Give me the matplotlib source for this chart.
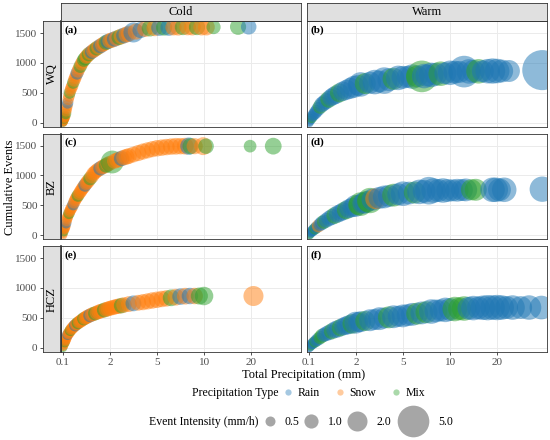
import numpy as np
import matplotlib
matplotlib.use('Agg')
import matplotlib.pyplot as plt
from matplotlib.lines import Line2D

plt.rcParams['font.family'] = ['Liberation Serif', 'DejaVu Serif']

# precipitation (mm), cumulative events, intensity (mm/h), type (R rain, S snow, M mix)
wq_cold_x = [0.100, 0.1015, 0.103, 0.105, 0.106, 0.108, 0.109, 0.113, 0.116, 0.120,
             0.123, 0.127, 0.131, 0.135, 0.141, 0.148, 0.154, 0.161, 0.171, 0.182,
             0.193, 0.205, 0.218, 0.231, 0.246, 0.261, 0.281, 0.303, 0.326, 0.352,
             0.379, 0.409, 0.441, 0.475, 0.519, 0.568, 0.632, 0.701, 0.780, 0.864,
             0.975, 1.10, 1.24, 1.40, 1.58, 1.77, 2.00, 2.09, 2.19, 2.29,
             2.40, 2.51, 2.63, 2.76, 2.89, 3.16, 3.31, 3.63, 3.98, 4.36,
             4.78, 5.18, 5.55, 5.95, 6.37, 6.83, 7.32, 7.85, 8.41, 9.01,
             9.66, 10.35, 11.5, 16.5, 19.3]
wq_cold_y = [0, 10, 20, 35, 50, 65, 75, 90, 110, 150,
             195, 240, 285, 330, 390, 450, 500, 540, 580, 620,
             670, 710, 750, 790, 830, 865, 910, 945, 985, 1020,
             1050, 1075, 1100, 1120, 1145, 1165, 1185, 1205, 1225, 1245,
             1265, 1285, 1305, 1325, 1345, 1360, 1372, 1385, 1400, 1415,
             1430, 1445, 1460, 1475, 1490, 1510, 1525, 1550, 1570, 1580,
             1585, 1590, 1592, 1594, 1595, 1598, 1600, 1600, 1600, 1600,
             1600, 1600, 1600, 1605, 1605]
wq_cold_i = [0.4, 0.4, 0.45, 0.45, 0.5, 0.5, 0.5, 0.55, 0.55, 0.6,
             0.6, 0.6, 0.65, 0.65, 0.65, 0.7, 0.7, 0.7, 0.75, 0.75,
             0.75, 0.8, 0.8, 0.8, 0.85, 0.85, 0.85, 0.9, 0.9, 0.9,
             0.95, 0.95, 0.95, 1.0, 1.0, 1.0, 1.0, 1.05, 1.05, 1.05,
             1.1, 1.1, 1.1, 1.1, 1.15, 1.15, 1.15, 1.2, 1.2, 1.2,
             1.2, 1.25, 1.25, 1.25, 1.3, 2.0, 1.3, 1.3, 1.3, 1.35,
             1.35, 1.35, 1.3, 1.4, 1.3, 1.4, 1.3, 1.35, 1.4, 1.3,
             1.4, 1.4, 1.0, 1.3, 1.2]
wq_cold_t = ("SMSSSMSSSM" "SSSRSSMSSS" "MSSSRSSMSS" "MMSSMSRSSM"
             "SRSSMRSSRS" "MSRSSRSRSM" "SRMRSSMSSM" "SSMMR")

wq_warm_x = [0.100, 0.106, 0.113, 0.120, 0.127, 0.135, 0.148, 0.161, 0.182, 0.205,
             0.231, 0.261, 0.303, 0.352, 0.409, 0.475, 0.568, 0.701, 0.864, 1.10,
             1.40, 1.77, 2.09, 2.19, 2.40, 2.63, 2.89, 3.16, 3.47, 3.80,
             4.16, 4.56, 5.00, 5.36, 5.74, 6.16, 6.60, 6.83, 7.07, 7.58,
             8.12, 8.71, 9.33, 10.0, 10.72, 11.5, 12.3, 13.2, 14.1, 15.2,
             16.2, 17.4, 18.7, 20.0, 21.4, 23.8, 38.9]
wq_warm_y = [0, 30, 60, 85, 110, 135, 160, 190, 230, 270,
             305, 330, 360, 390, 420, 445, 470, 500, 525, 550,
             575, 600, 625, 640, 655, 670, 680, 690, 705, 720,
             735, 750, 760, 768, 772, 775, 775, 780, 790, 800,
             812, 820, 828, 835, 845, 850, 855, 858, 860, 860,
             860, 862, 865, 865, 865, 865, 880]
wq_warm_i = [0.45, 0.5, 0.55, 0.6, 0.65, 0.7, 0.8, 0.85, 0.95, 1.05,
             1.2, 1.2, 1.3, 1.4, 1.5, 1.6, 1.7, 1.8, 1.9, 2.0,
             2.2, 2.4, 2.2, 3.0, 2.2, 2.4, 3.0, 2.4, 3.5, 2.6,
             2.4, 3.0, 2.6, 2.4, 3.0, 2.4, 5.0, 3.0, 2.4, 3.0,
             2.6, 3.0, 2.4, 3.0, 2.6, 2.4, 5.0, 3.0, 2.6, 3.0,
             2.4, 3.0, 3.2, 3.0, 2.6, 2.4, 8.0]
wq_warm_t = ("RRRMRRRRRM" "RRRMRRRMRR" "RRRRMRRRRR" "MRRRRMMRRR"
             "RMRRRRRRRM" "RRRRRRR")

bz_cold_x = [0.100, 0.103, 0.106, 0.109, 0.113, 0.116, 0.120, 0.123, 0.127, 0.131,
             0.135, 0.141, 0.148, 0.154, 0.161, 0.171, 0.182, 0.193, 0.205, 0.218,
             0.231, 0.246, 0.261, 0.281, 0.303, 0.326, 0.352, 0.379, 0.409, 0.441,
             0.475, 0.519, 0.568, 0.632, 0.701, 0.780, 0.864, 0.975, 1.10, 1.24,
             1.40, 1.58, 1.77, 2.00, 2.09, 2.19, 2.29, 2.40, 2.51, 2.63,
             2.76, 2.89, 3.16, 3.47, 3.80, 4.16, 4.56, 5.00, 5.36, 5.74,
             6.16, 6.60, 7.07, 7.58, 8.0, 8.2, 8.71, 9.86, 10.3, 19.7,
             27.7]
bz_cold_y = [0, 30, 60, 90, 110, 130, 160, 200, 240, 280,
             310, 340, 365, 395, 420, 450, 480, 515, 550, 585,
             615, 640, 665, 695, 725, 755, 785, 810, 840, 865,
             890, 920, 950, 985, 1030, 1055, 1080, 1100, 1120, 1140,
             1155, 1170, 1190, 1205, 1225, 1240, 1255, 1270, 1285, 1300,
             1312, 1325, 1350, 1375, 1400, 1420, 1440, 1455, 1465, 1475,
             1483, 1488, 1490, 1490, 1490, 1490, 1490, 1490, 1490, 1490,
             1490]
bz_cold_i = [0.4, 0.4, 0.45, 0.45, 0.5, 0.5, 0.5, 0.55, 0.55, 0.6,
             0.6, 0.6, 0.65, 0.65, 0.65, 0.7, 0.7, 0.7, 0.75, 0.75,
             0.75, 0.8, 0.8, 0.8, 0.85, 0.85, 0.85, 0.9, 0.9, 0.9,
             0.95, 0.95, 0.95, 1.0, 1.0, 1.0, 1.0, 1.05, 1.05, 1.05,
             1.1, 1.1, 1.1, 1.1, 2.6, 1.15, 1.15, 1.2, 1.2, 1.2,
             1.25, 1.25, 1.25, 1.3, 1.3, 1.3, 1.3, 1.35, 1.35, 1.35,
             1.35, 1.4, 1.35, 1.4, 1.5, 1.3, 1.3, 1.6, 1.2, 0.8,
             1.4]
bz_cold_t = ("SSMSSSSRSS" "SSMSSSSRSS" "SSMSSSSSRS" "SSMSSSSSRS"
             "SMSSMSSSRS" "SSSSSSSSSS" "SSSSRMSSMMM")

bz_warm_x = [0.100, 0.106, 0.113, 0.120, 0.127, 0.135, 0.148, 0.161, 0.182, 0.205,
             0.231, 0.261, 0.303, 0.363, 0.434, 0.519, 0.622, 0.744, 0.891, 1.07,
             1.28, 1.58, 1.94, 2.09, 2.19, 2.29, 2.40, 2.51, 2.63, 2.76,
             2.94, 3.16, 3.47, 3.80, 4.16, 4.56, 5.00, 5.47, 5.95, 6.37,
             6.83, 7.32, 7.85, 8.41, 9.01, 9.66, 10.35, 11.1, 11.9, 12.6,
             13.7, 14.6, 18.7, 19.6, 20.7, 22.2, 38.9]
bz_warm_y = [0, 20, 40, 60, 75, 90, 110, 130, 155, 180,
             205, 225, 250, 280, 305, 330, 355, 375, 400, 420,
             445, 465, 490, 505, 520, 535, 550, 565, 580, 595,
             610, 625, 640, 657, 670, 685, 695, 705, 715, 725,
             735, 745, 748, 748, 748, 748, 750, 752, 755, 758,
             760, 760, 760, 760, 760, 760, 770]
bz_warm_i = [0.45, 0.5, 0.5, 0.55, 0.6, 0.65, 0.7, 0.75, 0.85, 0.9,
             1.0, 1.0, 1.1, 1.2, 1.3, 1.4, 1.5, 1.5, 1.6, 1.7,
             1.8, 1.9, 2.4, 2.0, 2.8, 2.2, 2.4, 2.2, 3.2, 2.4,
             2.2, 2.4, 2.6, 2.4, 2.6, 2.4, 3.0, 2.6, 2.4, 3.0,
             2.6, 3.8, 3.0, 2.6, 3.0, 2.6, 2.4, 2.6, 2.4, 2.6,
             2.2, 2.4, 3.0, 3.0, 2.6, 3.0, 3.2]
bz_warm_t = ("RMRRRRMRSR" "RMRRRMRRRM" "RRRMMRRMMR" "SRRRMRRRMR"
             "RRRRRRRRRR" "MMRRRRR")

hcz_cold_x = [0.100, 0.103, 0.106, 0.109, 0.113, 0.116, 0.120, 0.123, 0.127, 0.131,
              0.135, 0.141, 0.148, 0.154, 0.161, 0.171, 0.182, 0.193, 0.205, 0.218,
              0.231, 0.246, 0.261, 0.281, 0.303, 0.326, 0.352, 0.379, 0.409, 0.441,
              0.475, 0.519, 0.568, 0.632, 0.701, 0.780, 0.864, 0.975, 1.10, 1.24,
              1.40, 1.58, 1.77, 2.00, 2.09, 2.19, 2.29, 2.40, 2.51, 2.63,
              2.89, 3.16, 3.47, 3.80, 4.16, 4.56, 5.00, 5.36, 5.74, 6.16,
              6.60, 7.07, 7.58, 8.12, 8.71, 9.33, 10.0, 20.7]
hcz_cold_y = [0, 20, 45, 70, 90, 105, 125, 150, 175, 200,
              220, 235, 250, 270, 290, 310, 325, 345, 360, 375,
              390, 400, 415, 430, 440, 455, 470, 485, 495, 505,
              520, 530, 540, 555, 565, 575, 585, 600, 610, 620,
              630, 640, 650, 660, 670, 680, 690, 697, 705, 715,
              730, 742, 752, 762, 775, 790, 802, 815, 825, 835,
              845, 855, 862, 865, 865, 865, 865, 865]
hcz_cold_i = [0.4, 0.4, 0.45, 0.45, 0.5, 0.5, 0.5, 0.55, 0.55, 0.6,
              0.6, 0.6, 0.65, 0.65, 0.65, 0.7, 0.7, 0.7, 0.75, 0.75,
              0.75, 0.8, 0.8, 0.8, 0.85, 0.85, 0.85, 0.9, 0.9, 0.9,
              0.95, 0.95, 0.95, 1.0, 1.0, 1.0, 1.0, 1.05, 1.05, 1.05,
              1.1, 1.1, 1.1, 1.1, 1.15, 1.15, 1.15, 1.2, 1.2, 1.2,
              1.25, 1.25, 1.25, 1.3, 1.3, 1.35, 1.35, 1.35, 1.35, 1.4,
              1.4, 1.35, 1.4, 1.35, 1.35, 1.45, 1.7, 2.0]
hcz_cold_t = ("MSSSMSSSSS" "RSSSMSSSSR" "SSMSSSSMSS" "SSRSSMSSSS"
              "MSSSSSSSMS" "SRSSSSSSSM" "SRSRSMMS")

hcz_warm_x = [0.100, 0.106, 0.113, 0.120, 0.127, 0.135, 0.148, 0.161, 0.182, 0.205,
              0.231, 0.261, 0.303, 0.363, 0.434, 0.519, 0.622, 0.744, 0.891, 1.07,
              1.28, 1.58, 1.94, 2.09, 2.19, 2.40, 2.63, 2.89, 3.16, 3.47,
              3.80, 4.16, 4.56, 5.00, 5.36, 5.74, 6.16, 6.60, 7.07, 7.58,
              8.12, 8.71, 9.33, 10.0, 10.72, 11.5, 12.3, 13.2, 14.1, 15.2,
              16.2, 17.4, 18.7, 20.0, 21.4, 23.0, 25.1, 28.3, 32.0, 38.4]
hcz_warm_y = [0, 15, 35, 55, 70, 85, 100, 120, 145, 170,
              200, 215, 235, 255, 275, 300, 315, 335, 355, 370,
              385, 400, 418, 428, 435, 448, 460, 472, 486, 497,
              508, 518, 525, 532, 545, 558, 570, 582, 595, 605,
              615, 625, 633, 640, 647, 652, 656, 660, 663, 666,
              668, 670, 672, 672, 672, 672, 672, 672, 672, 672]
hcz_warm_i = [0.45, 0.5, 0.5, 0.55, 0.6, 0.65, 0.7, 0.75, 0.85, 0.9,
              1.0, 1.0, 1.1, 1.2, 1.3, 1.4, 1.5, 1.5, 1.6, 1.7,
              1.8, 1.9, 2.4, 2.0, 2.2, 2.0, 2.4, 2.2, 2.6, 2.2,
              2.4, 2.6, 2.2, 2.6, 2.4, 2.6, 2.4, 2.6, 2.4, 3.0,
              2.6, 2.4, 3.0, 2.6, 3.0, 2.6, 3.0, 2.6, 3.0, 2.6,
              3.0, 3.2, 3.0, 3.2, 3.0, 2.6, 3.0, 2.6, 3.0, 2.8]
hcz_warm_t = ("RRMRRRMRRM" "MRRRMRRMRR" "RMRRRMRRRR" "MRRRRRMRMR"
              "RRRRMMMRRR" "RRRRRRRRRR")

regions = ['WQ', 'BZ', 'HCZ']
seasons = ['Cold', 'Warm']
panels = [
    [(wq_cold_x, wq_cold_y, wq_cold_i, wq_cold_t), (wq_warm_x, wq_warm_y, wq_warm_i, wq_warm_t)],
    [(bz_cold_x, bz_cold_y, bz_cold_i, bz_cold_t), (bz_warm_x, bz_warm_y, bz_warm_i, bz_warm_t)],
    [(hcz_cold_x, hcz_cold_y, hcz_cold_i, hcz_cold_t), (hcz_warm_x, hcz_warm_y, hcz_warm_i, hcz_warm_t)],
]
panel_tags = [['(a)', '(b)'], ['(c)', '(d)'], ['(e)', '(f)']]

type_names = {'R': 'Rain', 'S': 'Snow', 'M': 'Mix'}
type_colors = {'R': '#1f77b4', 'S': '#ff7f0e', 'M': '#2ca02c'}
size_keys = [0.5, 1.0, 2.0, 5.0]
x_breaks = [0.1, 2, 5, 10, 20]
y_breaks = [0, 500, 1000, 1500]

ALPHA = 0.5       # points are far fewer than the real events, so a bit stronger
KEY_ALPHA = 0.4
SIZE_PER_UNIT = 104  # pt^2 per mm/h

# x axis: equal spacing between the break values
log_b = np.log(np.array(x_breaks, dtype=float))
pos_b = np.arange(len(x_breaks), dtype=float)


def fwd(x):
    lx = np.log(np.clip(np.asarray(x, dtype=float), 1e-9, None))
    t = np.interp(lx, log_b, pos_b)
    t = np.where(lx < log_b[0], (lx - log_b[0]) / (log_b[1] - log_b[0]), t)
    t = np.where(lx > log_b[-1], pos_b[-1] + (lx - log_b[-1]) / np.log(2), t)
    return t


def inv(t):
    t = np.asarray(t, dtype=float)
    lx = np.interp(t, pos_b, log_b)
    lx = np.where(t < 0, log_b[0] + t * (log_b[1] - log_b[0]), lx)
    lx = np.where(t > pos_b[-1], log_b[-1] + (t - pos_b[-1]) * np.log(2), lx)
    return np.exp(lx)


W, H = 550, 440


def box(x0, y0, x1, y1):
    return [x0 / W, 1 - y1 / H, (x1 - x0) / W, (y1 - y0) / H]


fig = plt.figure(figsize=(5.5, 4.4), dpi=100)

col_x = [(61, 301), (307, 547)]
row_y = [(21, 127), (133.5, 239.5), (246, 352)]
XLIM = (inv(-0.04), inv(5.06))
YLIM = (-72, 1702)
edge = '#333333'
strip_fill = '#e0e0e0'
tick_col = '#4d4d4d'

for r, region in enumerate(regions):
    for c, season in enumerate(seasons):
        x, y, inten, kinds = panels[r][c]
        ax = fig.add_axes(box(col_x[c][0], row_y[r][0], col_x[c][1], row_y[r][1]))
        ax.set_xscale('function', functions=(fwd, inv))
        ax.scatter(x, y, s=np.array(inten) * SIZE_PER_UNIT,
                   c=[type_colors[k] for k in kinds], alpha=ALPHA,
                   edgecolors='none', zorder=2)
        ax.set_xlim(XLIM)
        ax.set_ylim(YLIM)
        ax.set_xticks(x_breaks)
        ax.set_xticks([], minor=True)
        ax.set_yticks(y_breaks)
        ax.grid(True, color='#ebebeb', lw=0.7)
        ax.set_axisbelow(True)
        for s in ax.spines.values():
            s.set_color(edge)
            s.set_linewidth(0.6)
        ax.tick_params(axis='y', left=False, labelleft=False)
        if r == len(regions) - 1:
            ax.set_xticklabels([str(v) for v in x_breaks])
            ax.tick_params(axis='x', length=2.5, width=0.6, color=edge,
                           labelcolor=tick_col, labelsize=8, pad=1.5)
        else:
            ax.tick_params(axis='x', bottom=False, labelbottom=False)
        ax.text(0.015, 0.915, panel_tags[r][c], transform=ax.transAxes,
                fontsize=8, fontweight='bold', va='center', ha='left', zorder=5)

        if c == 0:
            sa = fig.add_axes(box(43, row_y[r][0], 61, row_y[r][1]))
            sa.set_facecolor(strip_fill)
            sa.set_ylim(YLIM)
            sa.set_xticks([])
            sa.set_yticks(y_breaks)
            sa.set_yticklabels([str(v) for v in y_breaks])
            sa.tick_params(axis='y', length=2.5, width=0.6, color=edge,
                           labelcolor=tick_col, labelsize=8, pad=1.5)
            for s in sa.spines.values():
                s.set_color(edge)
                s.set_linewidth(0.6)
            sa.spines['right'].set_linewidth(1.2)
            sa.text(0.5, 0.5, region, transform=sa.transAxes, rotation=90,
                    ha='center', va='center', fontsize=9)

        if r == 0:
            ta = fig.add_axes(box(col_x[c][0], 3, col_x[c][1], 21))
            ta.set_facecolor(strip_fill)
            ta.set_xticks([])
            ta.set_yticks([])
            for s in ta.spines.values():
                s.set_color(edge)
                s.set_linewidth(0.6)
            ta.text(0.5, 0.5, season, transform=ta.transAxes,
                    ha='center', va='center', fontsize=9)

fig.text(10 / W, 1 - 187 / H, 'Cumulative Events', rotation=90,
         ha='center', va='center', fontsize=9)
fig.text(304 / W, 1 - 375 / H, 'Total Precipitation (mm)',
         ha='center', va='center', fontsize=9)

# legend: precipitation type
fig.text(279 / W, 1 - 393 / H, 'Precipitation Type', ha='right', va='center', fontsize=8.5)
type_handles = [Line2D([], [], ls='', marker='o', markersize=4.5, markeredgewidth=0,
                       color=type_colors[k], alpha=KEY_ALPHA) for k in 'RSM']
fig.legend(type_handles, [type_names[k] for k in 'RSM'], loc='center left',
           bbox_to_anchor=(282 / W, 1 - 393 / H), ncol=3, frameon=False,
           fontsize=8.5, handlelength=1.0, handletextpad=0.3, columnspacing=1.2,
           borderpad=0, borderaxespad=0)

# legend: event intensity
fig.text(258 / W, 1 - 422 / H, 'Event Intensity (mm/h)', ha='right', va='center', fontsize=8.5)
key_centers = [270, 311, 357, 413]
for v, xc in zip(size_keys, key_centers):
    ms = np.sqrt(v * SIZE_PER_UNIT)
    d_px = ms / 0.72
    h = Line2D([], [], ls='', marker='o', markersize=ms, markeredgewidth=0,
               color='black', alpha=0.35)
    fig.legend([h], [f'{v:.1f}'], loc='center left',
               bbox_to_anchor=((xc - d_px / 2) / W, 1 - 422 / H), frameon=False,
               fontsize=8.5, handlelength=d_px / (8.5 / 0.72), handletextpad=0.8,
               borderpad=0, borderaxespad=0)

fig.savefig('out.png', dpi=100)
